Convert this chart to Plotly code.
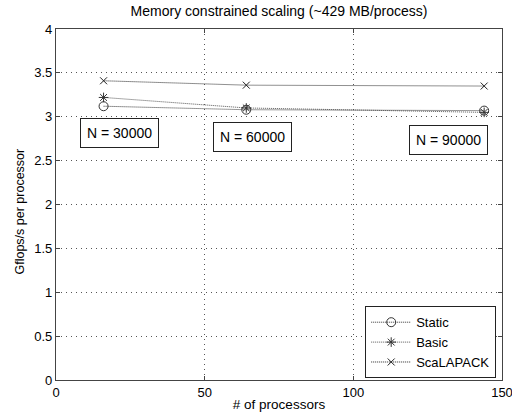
import plotly.graph_objects as go

procs = [16, 64, 144]
static = [3.12, 3.08, 3.07]
basic = [3.22, 3.10, 3.05]
scalapack = [3.41, 3.36, 3.35]
ann_x = [21.5, 66, 132]
ann_y = [2.82, 2.77, 2.73]
ann_text = ["N = 30000", "N = 60000", "N = 90000"]

fig = go.Figure()
fig.add_trace(go.Scatter(x=procs, y=static, name="Static", mode="lines+markers",
                         line=dict(color="#333333", width=1, dash="1px,1px"),
                         marker=dict(symbol="circle-open", size=9, color="#333333", line=dict(width=1))))
fig.add_trace(go.Scatter(x=procs, y=basic, name="Basic", mode="lines+markers",
                         line=dict(color="#555555", width=1, dash="1px,1px"),
                         marker=dict(symbol="asterisk-open", size=8, color="#333333", line=dict(width=1))))
fig.add_trace(go.Scatter(x=procs, y=scalapack, name="ScaLAPACK", mode="lines+markers",
                         line=dict(color="#222222", width=1, dash="1px,1px"),
                         marker=dict(symbol="x-thin-open", size=7, color="#222222", line=dict(width=1))))

for x, y, t in zip(ann_x, ann_y, ann_text):
    fig.add_annotation(x=x, y=y, text=t, showarrow=False, bordercolor="#222222", borderwidth=1,
                       borderpad=6, bgcolor="white", font=dict(size=14, color="black"))

# y-axis title placed as rotated annotation
fig.add_annotation(text="Gflops/s per processor", xref="paper", yref="paper", x=0, y=0.48,
                   xanchor="center", yanchor="middle", xshift=-36, textangle=-90,
                   showarrow=False, font=dict(size=12.5, color="black"))

axis_common = dict(showline=True, linecolor="#444444", linewidth=1.3, mirror="ticks",
                   ticks="inside", ticklen=4, tickcolor="#444444",
                   showgrid=True, gridcolor="#555555", griddash="1px,4px", gridwidth=1,
                   zeroline=False, tickfont=dict(size=13, color="black"), automargin=False,
                   ticklabeloverflow="allow")

fig.update_layout(
    width=512, height=417,
    margin=dict(l=56, r=10, t=29, b=37),
    paper_bgcolor="white", plot_bgcolor="white",
    font=dict(family="Liberation Sans, Arial, sans-serif", size=12, color="black"),
    title=dict(text="Memory constrained scaling (~429 MB/process)", x=0.545, xanchor="center",
               y=0.985, yanchor="top", font=dict(size=14)),
    xaxis=dict(range=[0, 150], tickvals=[0, 50, 100, 150],
               title=dict(text="# of processors", standoff=0, font=dict(size=13.5)), **axis_common),
    yaxis=dict(range=[0, 4], tickvals=[0, 0.5, 1, 1.5, 2, 2.5, 3, 3.5, 4],
               ticktext=["0", "0.5", "1", "1.5", "2", "2.5", "3", "3.5", "4"], **axis_common),
    legend=dict(x=0.987, y=0.005, xanchor="right", yanchor="bottom", bordercolor="#222222",
                borderwidth=1, bgcolor="white", font=dict(size=13), itemwidth=40,
                tracegroupgap=0),
    showlegend=True,
)

fig.write_html("out.html")
